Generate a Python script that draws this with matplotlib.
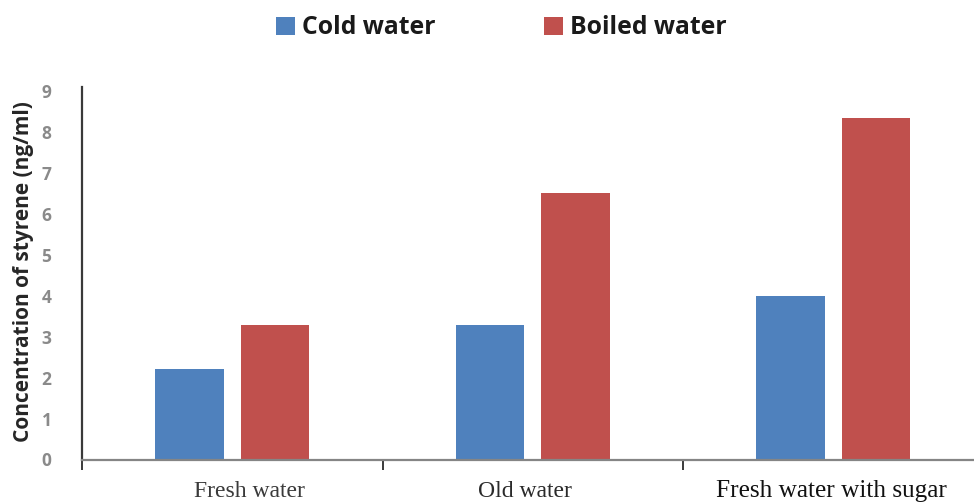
import matplotlib
matplotlib.use("Agg")
import matplotlib.pyplot as plt
import matplotlib.transforms as mtransforms
from matplotlib.patches import Patch
import numpy as np

categories = ["Fresh water", "Old water", "Fresh water with sugar"]
series_names = ["Cold water", "Boiled water"]
cold_water = [2.22, 3.28, 3.99]
boiled_water = [3.30, 6.51, 8.35]
y_ticks = [0, 1, 2, 3, 4, 5, 6, 7, 8, 9]
colors = ["#4F81BD", "#C0504D"]

W, H = 974, 503
fig = plt.figure(figsize=(W / 100, H / 100), dpi=100)
ax = fig.add_axes([82 / W, (H - 459.5) / H, 1 - 82 / W, (459.5 - 87) / H])

x = np.arange(len(categories))
bw = 0.228
ax.bar(x - 0.142, cold_water, width=bw, color=colors[0], zorder=2)
ax.bar(x + 0.142, boiled_water, width=bw, color=colors[1], zorder=2)

ax.set_xlim(-0.5, (W - 82) / 300.5 - 0.5)
ax.set_ylim(0, 9.11)

for s in ["top", "right"]:
    ax.spines[s].set_visible(False)
ax.spines["bottom"].set_color("#858585")
ax.spines["bottom"].set_linewidth(1.6)
ax.spines["left"].set_color("#3a3a3a")
ax.spines["left"].set_linewidth(1.6)

# category boundary ticks
ax.set_xticks([-0.5, 0.5, 1.5])
ax.set_xticklabels([])
ax.tick_params(axis="x", length=7, width=1.4, color="#3a3a3a", direction="out")

ax.set_yticks(y_ticks)
ax.set_yticklabels([str(v) for v in y_ticks], family="Open Sans",
                   fontweight="bold", fontsize=12.5, color="#8a8a8a")
ax.tick_params(axis="y", length=0, pad=22)

ax.set_ylabel("Concentration of styrene (ng/ml)", family="Open Sans",
              fontweight="bold", fontsize=15, color="#262626")
ax.yaxis.set_label_coords(-(82 - 34) / (W - 82), 0.505)

# category labels (positioned as in the original)
trans = mtransforms.blended_transform_factory(ax.transData, fig.transFigure)
label_x = [0.057, 0.974, 1.994]
label_base = [497, 497, 497]
label_size = [17, 17, 18.2]
label_col = ["#3a3a3a", "#2a2a2a", "#111111"]
for cat, lx, lb, ls, lc in zip(categories, label_x, label_base, label_size, label_col):
    ax.text(lx, (H - lb) / H, cat, transform=trans, ha="center", va="baseline",
            family="Liberation Serif", fontsize=ls, color=lc, clip_on=False)

handles = [Patch(facecolor=c, edgecolor="none") for c in colors]
fig.legend(handles, series_names, loc="center", bbox_to_anchor=(501.5 / W, 1 - 28 / H),
           ncol=2, frameon=False, prop={"family": "Open Sans", "weight": "bold", "size": 17.8},
           handlelength=0.75, handleheight=0.75, handletextpad=0.3, columnspacing=4.4,
           labelcolor="#1a1a1a")

fig.savefig("out.png", dpi=100)
